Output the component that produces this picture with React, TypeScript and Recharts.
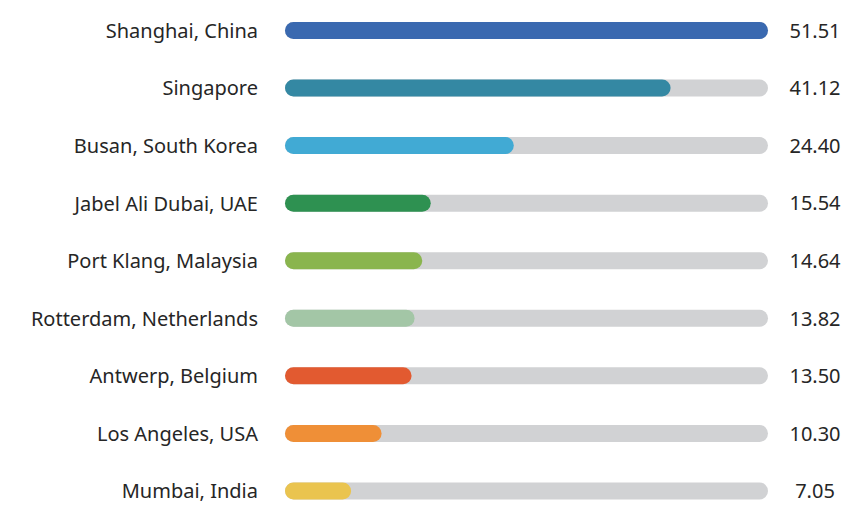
import { BarChart, Bar, XAxis, YAxis, Cell } from 'recharts'

const ports = [
  'Shanghai, China',
  'Singapore',
  'Busan, South Korea',
  'Jabel Ali Dubai, UAE',
  'Port Klang, Malaysia',
  'Rotterdam, Netherlands',
  'Antwerp, Belgium',
  'Los Angeles, USA',
  'Mumbai, India'
]
const volumes = [51.51, 41.12, 24.4, 15.54, 14.64, 13.82, 13.5, 10.3, 7.05]
const colors = ['#3a69b0', '#3488a3', '#41aad4', '#2e9151', '#8ab54e', '#a3c6a6', '#e25a30', '#ef8f37', '#eac44f']

const data = ports.map((port, i) => ({ port, value: volumes[i], label: volumes[i].toFixed(2) }))

const FONT = '"Noto Sans", sans-serif'

// value on the right, centered in its column
function ValueTick(props: any) {
  const { x, y, payload } = props
  return (
    <text x={x + 47} y={y} dy={7} textAnchor="middle" fill="#262626" fontSize={20} fontFamily={FONT}>
      {payload.value}
    </text>
  )
}

export default function App() {
  return (
    <div style={{ position: 'fixed', left: 0, top: 0, width: 855, height: 514, overflow: 'hidden', background: '#fff' }}>
      <BarChart
        width={855}
        height={520}
        data={data}
        layout="vertical"
        margin={{ top: 2, right: 0, bottom: 0, left: 0 }}
      >
        <XAxis type="number" domain={[0, 51.51]} hide />
        <YAxis
          yAxisId="left"
          type="category"
          dataKey="port"
          width={285}
          axisLine={false}
          tickLine={false}
          tickSize={0}
          tickMargin={27}
          tick={{ fill: '#262626', fontSize: 20, fontFamily: FONT }}
        />
        <YAxis
          yAxisId="right"
          orientation="right"
          type="category"
          dataKey="label"
          width={87}
          axisLine={false}
          tickLine={false}
          tickSize={0}
          tickMargin={0}
          tick={<ValueTick />}
        />
        <Bar
          yAxisId="left"
          dataKey="value"
          barSize={17}
          radius={8.5}
          background={{ fill: '#d1d2d4', radius: 8.5 }}
          isAnimationActive={false}
        >
          {data.map((d, i) => (
            <Cell key={d.port} fill={colors[i]} />
          ))}
        </Bar>
      </BarChart>
    </div>
  )
}
